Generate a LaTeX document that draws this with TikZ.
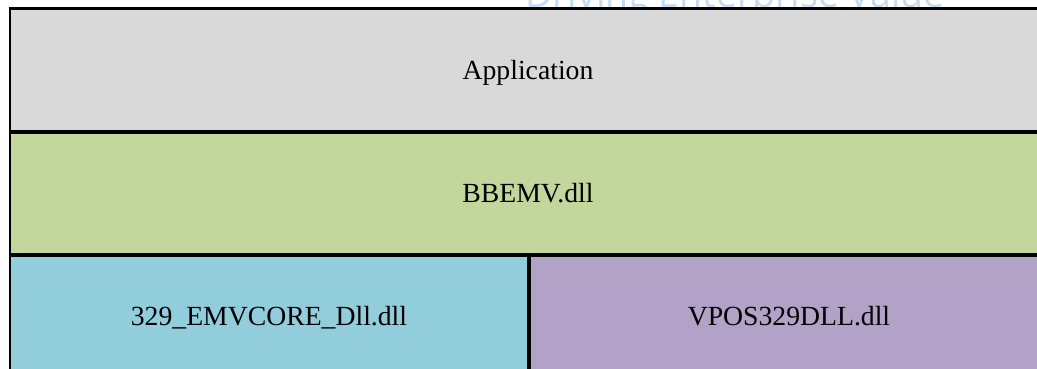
\documentclass[tikz,border=0pt]{standalone}
\usepackage{fontspec}
\setmainfont{Liberation Serif}
\newfontfamily\markfont{Open Sans}
\usepackage{tikz}
\usetikzlibrary{positioning}
\definecolor{appgray}{HTML}{D9D9D9}
\definecolor{dllgreen}{HTML}{C3D69B}
\definecolor{coreblue}{HTML}{92CDDC}
\definecolor{vpospurple}{HTML}{B2A2C7}
\definecolor{markblue}{HTML}{C4DCF2}

\begin{document}
\begin{tikzpicture}[x=1pt,y=-1pt,
	layer/.style={draw=black,line width=2pt,rectangle,inner sep=0pt,anchor=north west,
		minimum height=121pt,text height=18pt,text depth=0pt,
		font=\fontsize{27.7}{30}\selectfont}]
	\useasboundingbox (0,0) rectangle (1037,369);
	\clip (0,0) rectangle (1037,369);
	% watermark, mostly cut off at the top
	\node[anchor=base west,inner sep=0pt,text=markblue,font=\markfont\fontsize{37.5}{40}\selectfont] (mark) at (525,7.5) {Driving Enterprise Value};
	% stack of layers
	\node[layer,fill=appgray,minimum width=1036pt,minimum height=121.5pt] (app) at (9,8.5) {Application};
	\node[layer,fill=dllgreen,minimum width=1036pt] (bbemv) at (app.south west) {BBEMV.dll};
	\node[layer,fill=coreblue,minimum width=518pt] (core) at (bbemv.south west) {329\_EMVCORE\_Dll.dll};
	\node[layer,fill=vpospurple,minimum width=518pt] (vpos) at (core.north east) {VPOS329DLL.dll};
	\draw[line width=3pt] (app.north west) -- (app.north east);
\end{tikzpicture}
\end{document}
